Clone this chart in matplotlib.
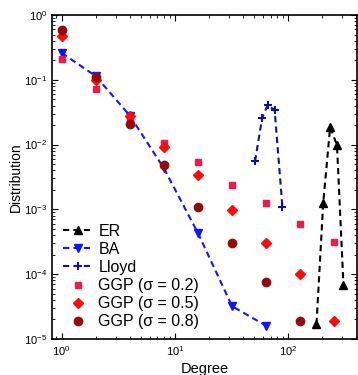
import matplotlib
matplotlib.use("Agg")
import matplotlib.pyplot as plt

plt.rcParams['font.family'] = ['Liberation Sans', 'DejaVu Sans']

# degree distributions
er_deg = [178, 204, 235, 270, 308]
er_p = [1.7e-5, 1.25e-3, 0.0186, 0.0098, 6.7e-5]

ba_deg = [1, 2, 4, 8, 16, 32, 64]
ba_p = [0.26, 0.114, 0.028, 0.0043, 4.3e-4, 3.2e-5, 1.6e-5]

lloyd_deg = [51, 59, 66, 76, 89]
lloyd_p = [0.0055, 0.026, 0.041, 0.034, 0.0011]

ggp_deg = [1, 2, 4, 8, 16, 32, 64, 128, 256]
ggp02_p = [0.21, 0.072, 0.025, 0.0105, 0.0053, 0.0024, 0.00125, 5.9e-4, 3.1e-4]
ggp05_p = [0.47, 0.10, 0.028, 0.0093, 0.0034, 9.8e-4, 3.0e-4, 1.0e-4, 1.9e-5]
ggp08_deg = [1, 2, 4, 8, 16, 32, 64, 128]
ggp08_p = [0.59, 0.11, 0.021, 0.0048, 0.0011, 3.0e-4, 7.7e-5, 1.9e-5]

fig = plt.figure(figsize=(3.58, 3.75), dpi=100)
ax = fig.add_axes([0.145, 0.096, 0.852, 0.864])

dash = (0, (3, 2))
ax.plot(er_deg, er_p, ls=dash, color='black', marker='^', ms=6, lw=1.5, label='ER')
ax.plot(ba_deg, ba_p, ls=dash, color='#1414ff', marker='v', ms=6, lw=1.5, label='BA')
ax.plot(lloyd_deg, lloyd_p, ls=dash, color='#10109a', marker='+', ms=6, mew=1.5, lw=1.5, label='Lloyd')
ax.plot(ggp_deg, ggp02_p, 's', color='#f0194a', ms=5, ls='none', label='GGP (σ = 0.2)')
ax.plot(ggp_deg, ggp05_p, 'D', color='#ff0a0a', ms=5, ls='none', label='GGP (σ = 0.5)')
ax.plot(ggp08_deg, ggp08_p, 'o', color='#960a0a', ms=6, ls='none', label='GGP (σ = 0.8)')

ax.set_xscale('log')
ax.set_yscale('log')
ax.set_xlim(0.82, 405)
ax.set_ylim(1e-5, 1)
ax.tick_params(which='both', direction='in', labelsize=8, top=True, right=True)
ax.tick_params(which='major', length=4)
ax.tick_params(which='minor', length=2)
for s in ax.spines.values():
    s.set_linewidth(1.2)

ax.set_xlabel('Degree', fontsize=10.5, labelpad=3)
ax.set_ylabel('Distribution', fontsize=10, labelpad=1)

ax.legend(loc='lower left', bbox_to_anchor=(-0.01, -0.015), frameon=False, fontsize=11.5,
          handlelength=1.9, handletextpad=0.3, labelspacing=0.2)

fig.savefig('out.png', dpi=100)
